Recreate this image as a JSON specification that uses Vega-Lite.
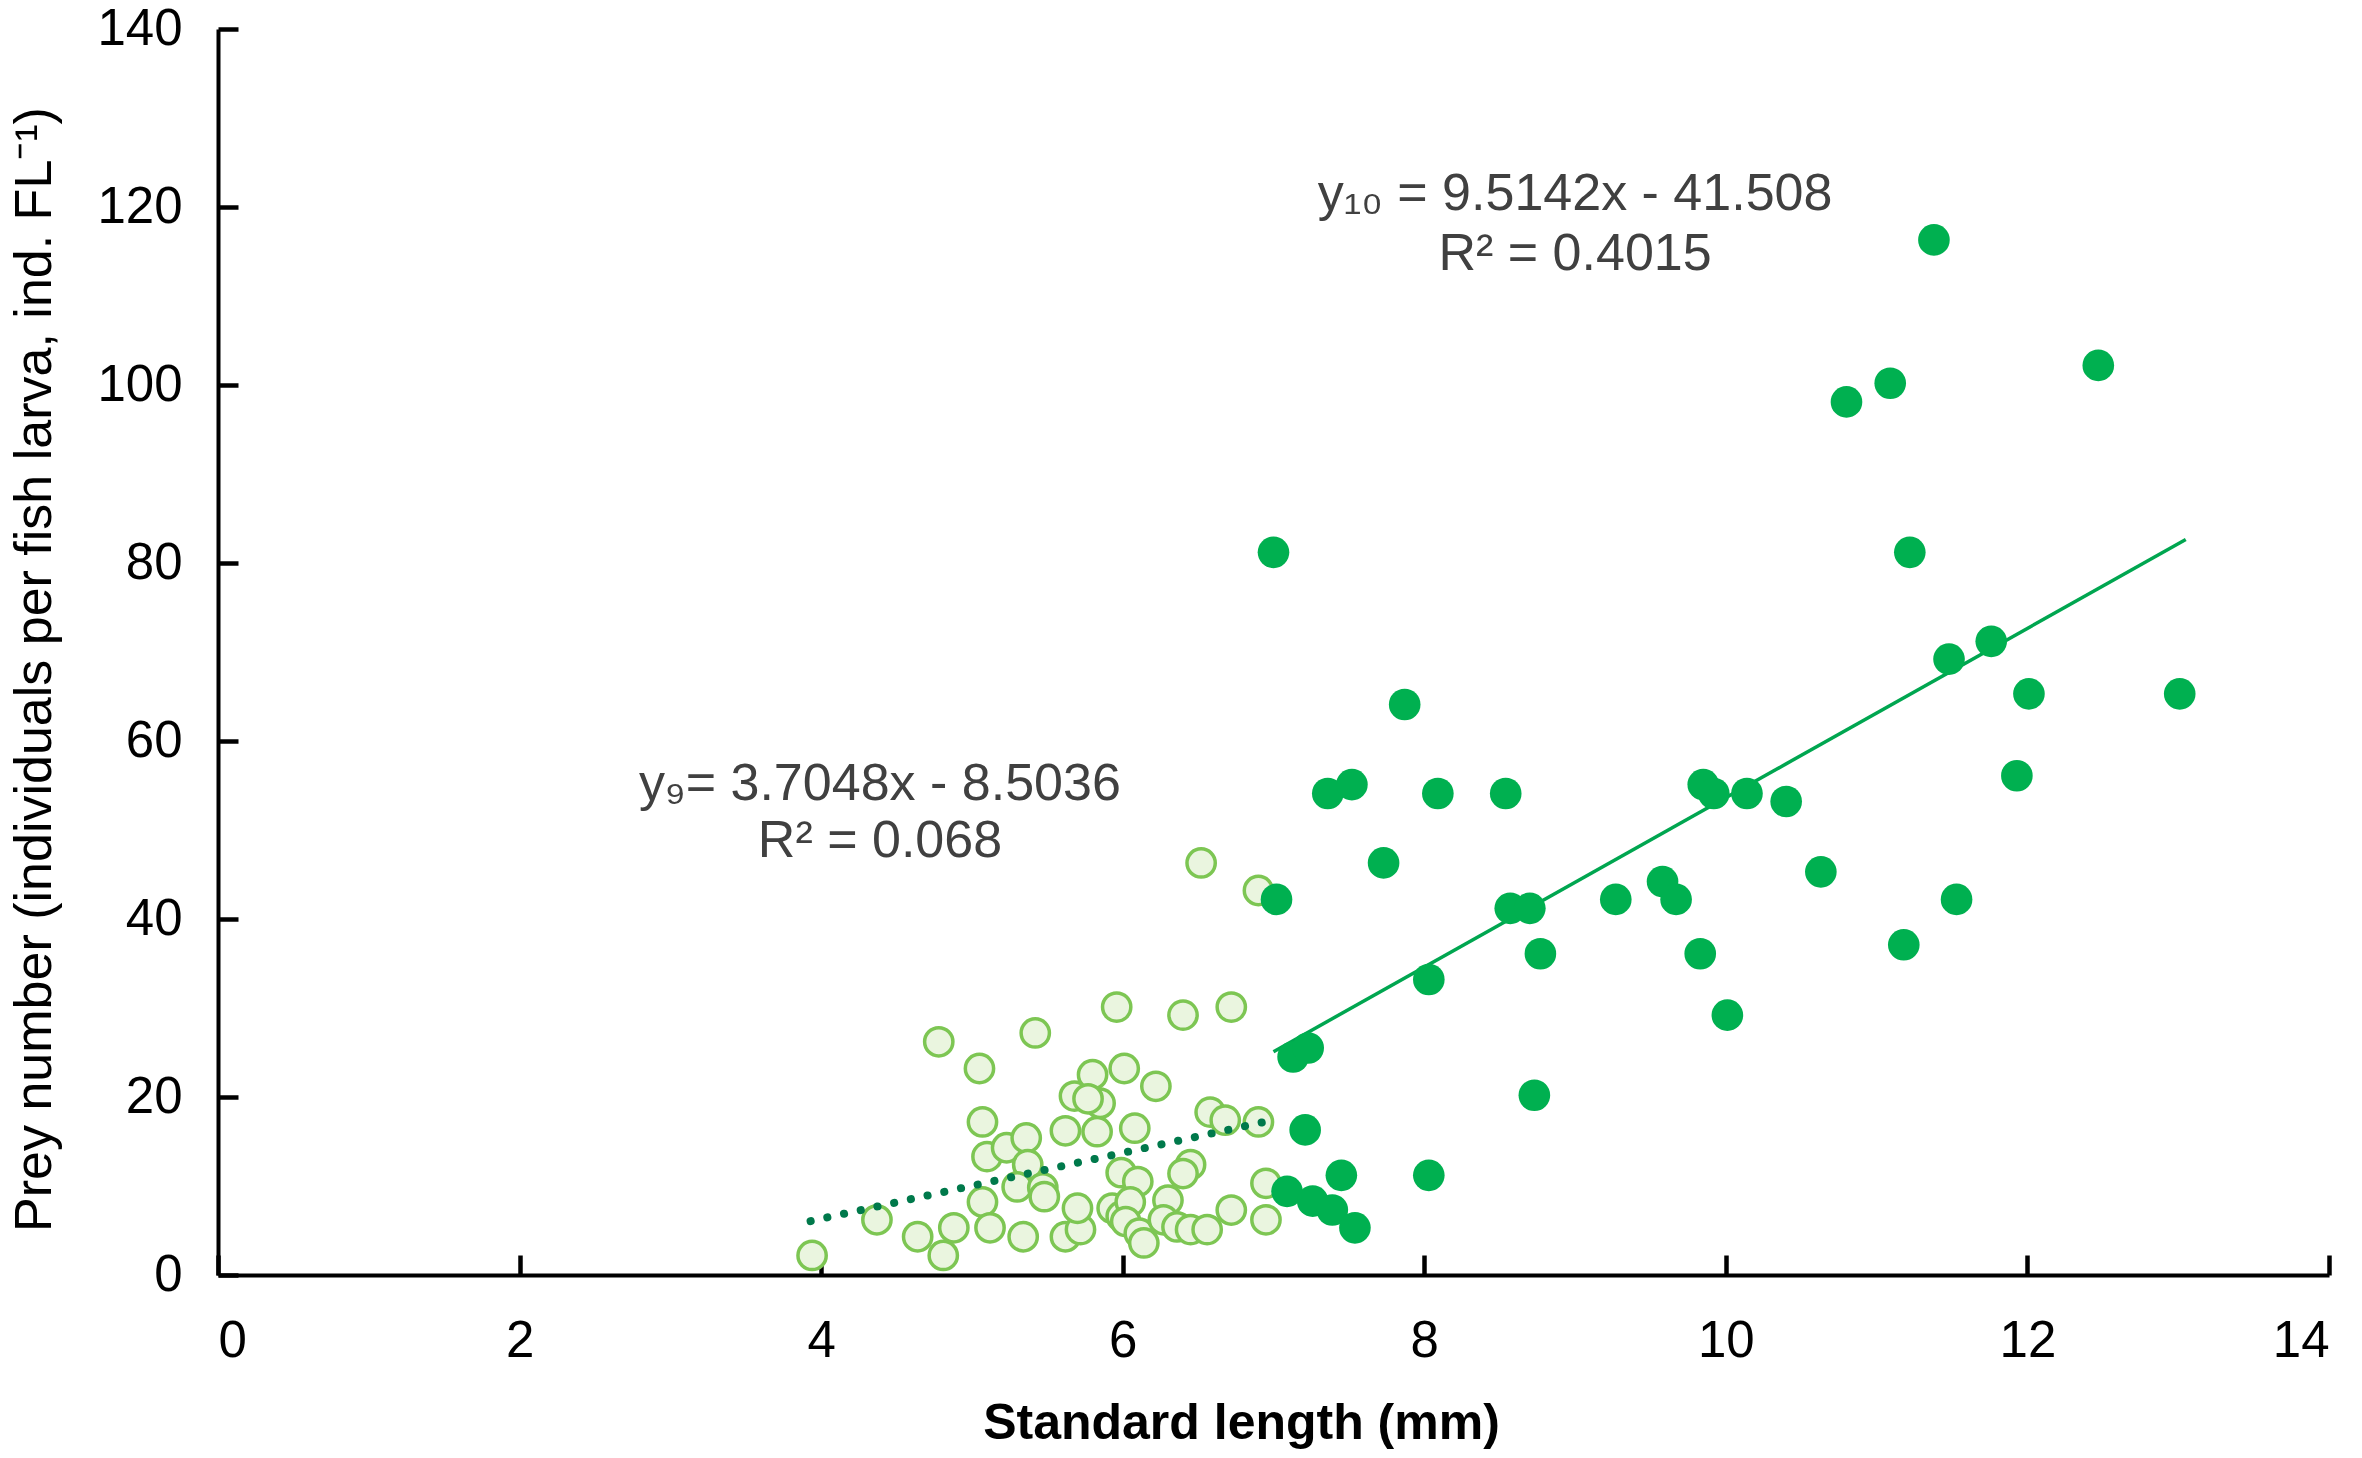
{
  "$schema": "https://vega.github.io/schema/vega-lite/v6.json",
  "description": "Prey number vs standard length of fish larvae, two size groups with linear trends.",
  "width": 2111,
  "height": 1246,
  "autosize": {"type": "none"},
  "padding": {"left": 218, "top": 29, "right": 33, "bottom": 183},
  "background": "white",
  "config": {"view": {"stroke": null}},
  "datasets": {
    "small": [
      {"sl": 3.94, "prey": 2.2}, {"sl": 4.37, "prey": 6.2}, {"sl": 4.64, "prey": 4.3},
      {"sl": 4.81, "prey": 2.2}, {"sl": 4.88, "prey": 5.3}, {"sl": 4.78, "prey": 26.2},
      {"sl": 5.05, "prey": 23.2}, {"sl": 5.42, "prey": 27.2}, {"sl": 5.07, "prey": 17.2},
      {"sl": 5.10, "prey": 13.3}, {"sl": 5.23, "prey": 14.3}, {"sl": 5.36, "prey": 15.4},
      {"sl": 5.37, "prey": 12.4}, {"sl": 5.30, "prey": 9.9}, {"sl": 5.47, "prey": 9.8},
      {"sl": 5.48, "prey": 8.8}, {"sl": 5.07, "prey": 8.2}, {"sl": 5.12, "prey": 5.3},
      {"sl": 5.34, "prey": 4.3}, {"sl": 5.62, "prey": 4.3}, {"sl": 5.72, "prey": 5.1},
      {"sl": 5.70, "prey": 7.5}, {"sl": 5.68, "prey": 20.1}, {"sl": 5.62, "prey": 16.2},
      {"sl": 5.83, "prey": 16.1}, {"sl": 6.08, "prey": 16.5}, {"sl": 5.80, "prey": 22.5},
      {"sl": 5.85, "prey": 19.3}, {"sl": 5.77, "prey": 19.8}, {"sl": 5.96, "prey": 30.1},
      {"sl": 6.40, "prey": 29.2}, {"sl": 6.72, "prey": 30.1}, {"sl": 6.01, "prey": 23.2},
      {"sl": 6.22, "prey": 21.2}, {"sl": 6.58, "prey": 18.3}, {"sl": 6.68, "prey": 17.4},
      {"sl": 6.90, "prey": 17.2}, {"sl": 5.99, "prey": 11.5}, {"sl": 6.10, "prey": 10.5},
      {"sl": 6.45, "prey": 12.4}, {"sl": 6.40, "prey": 11.4}, {"sl": 6.95, "prey": 10.3},
      {"sl": 5.93, "prey": 7.5}, {"sl": 5.99, "prey": 6.6}, {"sl": 6.05, "prey": 8.2},
      {"sl": 6.02, "prey": 6.0}, {"sl": 6.11, "prey": 4.7}, {"sl": 6.14, "prey": 3.6},
      {"sl": 6.30, "prey": 8.4}, {"sl": 6.27, "prey": 6.2}, {"sl": 6.36, "prey": 5.4},
      {"sl": 6.45, "prey": 5.1}, {"sl": 6.56, "prey": 5.1}, {"sl": 6.72, "prey": 7.3},
      {"sl": 6.95, "prey": 6.2}, {"sl": 6.52, "prey": 46.3}, {"sl": 6.90, "prey": 43.2}
    ],
    "large": [
      {"sl": 7.00, "prey": 81.2}, {"sl": 11.38, "prey": 116.3}, {"sl": 12.47, "prey": 102.2},
      {"sl": 11.09, "prey": 100.2}, {"sl": 10.80, "prey": 98.1}, {"sl": 11.22, "prey": 81.2},
      {"sl": 11.76, "prey": 71.2}, {"sl": 11.48, "prey": 69.2}, {"sl": 7.87, "prey": 64.1},
      {"sl": 12.01, "prey": 65.3}, {"sl": 13.01, "prey": 65.3}, {"sl": 11.93, "prey": 56.1},
      {"sl": 7.36, "prey": 54.1}, {"sl": 7.52, "prey": 55.1}, {"sl": 8.09, "prey": 54.1},
      {"sl": 8.54, "prey": 54.1}, {"sl": 9.85, "prey": 55.1}, {"sl": 9.92, "prey": 54.1},
      {"sl": 10.14, "prey": 54.1}, {"sl": 10.40, "prey": 53.2}, {"sl": 7.73, "prey": 46.3},
      {"sl": 10.63, "prey": 45.3}, {"sl": 9.58, "prey": 44.2}, {"sl": 9.67, "prey": 42.2},
      {"sl": 7.02, "prey": 42.2}, {"sl": 8.57, "prey": 41.2}, {"sl": 8.70, "prey": 41.2},
      {"sl": 9.27, "prey": 42.2}, {"sl": 11.53, "prey": 42.2}, {"sl": 8.77, "prey": 36.1},
      {"sl": 9.83, "prey": 36.1}, {"sl": 11.18, "prey": 37.1}, {"sl": 8.03, "prey": 33.2},
      {"sl": 10.01, "prey": 29.2}, {"sl": 7.13, "prey": 24.5}, {"sl": 7.23, "prey": 25.5},
      {"sl": 8.73, "prey": 20.2}, {"sl": 7.21, "prey": 16.3}, {"sl": 7.45, "prey": 11.2},
      {"sl": 8.03, "prey": 11.2}, {"sl": 7.09, "prey": 9.4}, {"sl": 7.26, "prey": 8.3},
      {"sl": 7.39, "prey": 7.3}, {"sl": 7.54, "prey": 5.3}
    ],
    "trend9": [{"sl": 3.93, "prey": 6.06}, {"sl": 6.95, "prey": 17.24}],
    "trend10": [{"sl": 7.0, "prey": 25.09}, {"sl": 13.05, "prey": 82.65}],
    "notes": [
      {"sl": 4.39, "prey": 53.4, "txt": "y₉= 3.7048x - 8.5036"},
      {"sl": 4.39, "prey": 47.0, "txt": "R² = 0.068"},
      {"sl": 9.0, "prey": 119.7, "txt": "y₁₀ = 9.5142x - 41.508"},
      {"sl": 9.0, "prey": 112.9, "txt": "R² = 0.4015"}
    ]
  },
  "resolve": {"axis": {"x": "independent", "y": "independent"}},
  "layer": [
    {
      "data": {"name": "small"},
      "mark": {"type": "point", "shape": "circle", "filled": false, "size": 800, "fill": "#EAF5DF", "fillOpacity": 1, "stroke": "#7DC653", "strokeWidth": 3.5, "opacity": 1},
      "encoding": {
        "x": {
          "field": "sl",
          "type": "quantitative",
          "scale": {"domain": [0, 14], "nice": false},
          "axis": {
            "values": [0, 2, 4, 6, 8, 10, 12, 14],
            "gridOpacity": 0,
            "domainColor": "#000000",
            "domainWidth": 4,
            "tickColor": "#000000",
            "tickWidth": 4.5,
            "tickSize": -20,
            "labelPadding": 61,
            "labelFont": "Liberation Sans",
            "labelFontSize": 51,
            "labelColor": "#000000",
            "title": "Standard length (mm)",
            "titleFont": "Liberation Sans",
            "titleColor": "#000000",
            "titleFontSize": 50,
            "titleFontWeight": "bold",
            "titleBaseline": "alphabetic",
            "titleX": 1023,
            "titleY": 163
          }
        },
        "y": {
          "field": "prey",
          "type": "quantitative",
          "scale": {"domain": [0, 140], "nice": false},
          "axis": {
            "values": [0, 20, 40, 60, 80, 100, 120, 140],
            "gridOpacity": 0,
            "domainColor": "#000000",
            "domainWidth": 4,
            "tickColor": "#000000",
            "tickWidth": 4.5,
            "tickSize": -20,
            "labelPadding": 56,
            "labelFont": "Liberation Sans",
            "labelFontSize": 51,
            "labelColor": "#000000",
            "title": "Prey number (individuals per fish larva, ind. FL⁻¹)",
            "titleFont": "Liberation Sans",
            "titleColor": "#000000",
            "titleFontSize": 52,
            "titleFontWeight": "normal",
            "titleBaseline": "alphabetic",
            "titleAngle": -90,
            "titleX": -168,
            "titleY": 640
          }
        }
      }
    },
    {
      "data": {"name": "trend9"},
      "mark": {"type": "line", "color": "#00794B", "strokeWidth": 8, "strokeDash": [0.1, 17], "strokeCap": "round"},
      "encoding": {
        "x": {"field": "sl", "type": "quantitative", "scale": {"domain": [0, 14], "nice": false}, "axis": null},
        "y": {"field": "prey", "type": "quantitative", "scale": {"domain": [0, 140], "nice": false}, "axis": null}
      }
    },
    {
      "data": {"name": "trend10"},
      "mark": {"type": "line", "color": "#00A650", "strokeWidth": 3.5},
      "encoding": {
        "x": {"field": "sl", "type": "quantitative", "scale": {"domain": [0, 14], "nice": false}, "axis": null},
        "y": {"field": "prey", "type": "quantitative", "scale": {"domain": [0, 140], "nice": false}, "axis": null}
      }
    },
    {
      "data": {"name": "large"},
      "mark": {"type": "circle", "size": 1000, "color": "#00B050", "opacity": 1},
      "encoding": {
        "x": {"field": "sl", "type": "quantitative", "scale": {"domain": [0, 14], "nice": false}, "axis": null},
        "y": {"field": "prey", "type": "quantitative", "scale": {"domain": [0, 140], "nice": false}, "axis": null}
      }
    },
    {
      "data": {"name": "notes"},
      "mark": {"type": "text", "font": "Liberation Sans", "fontSize": 52, "color": "#404040", "align": "center", "baseline": "alphabetic"},
      "encoding": {
        "x": {"field": "sl", "type": "quantitative", "scale": {"domain": [0, 14], "nice": false}, "axis": null},
        "y": {"field": "prey", "type": "quantitative", "scale": {"domain": [0, 140], "nice": false}, "axis": null},
        "text": {"field": "txt"}
      }
    }
  ]
}
